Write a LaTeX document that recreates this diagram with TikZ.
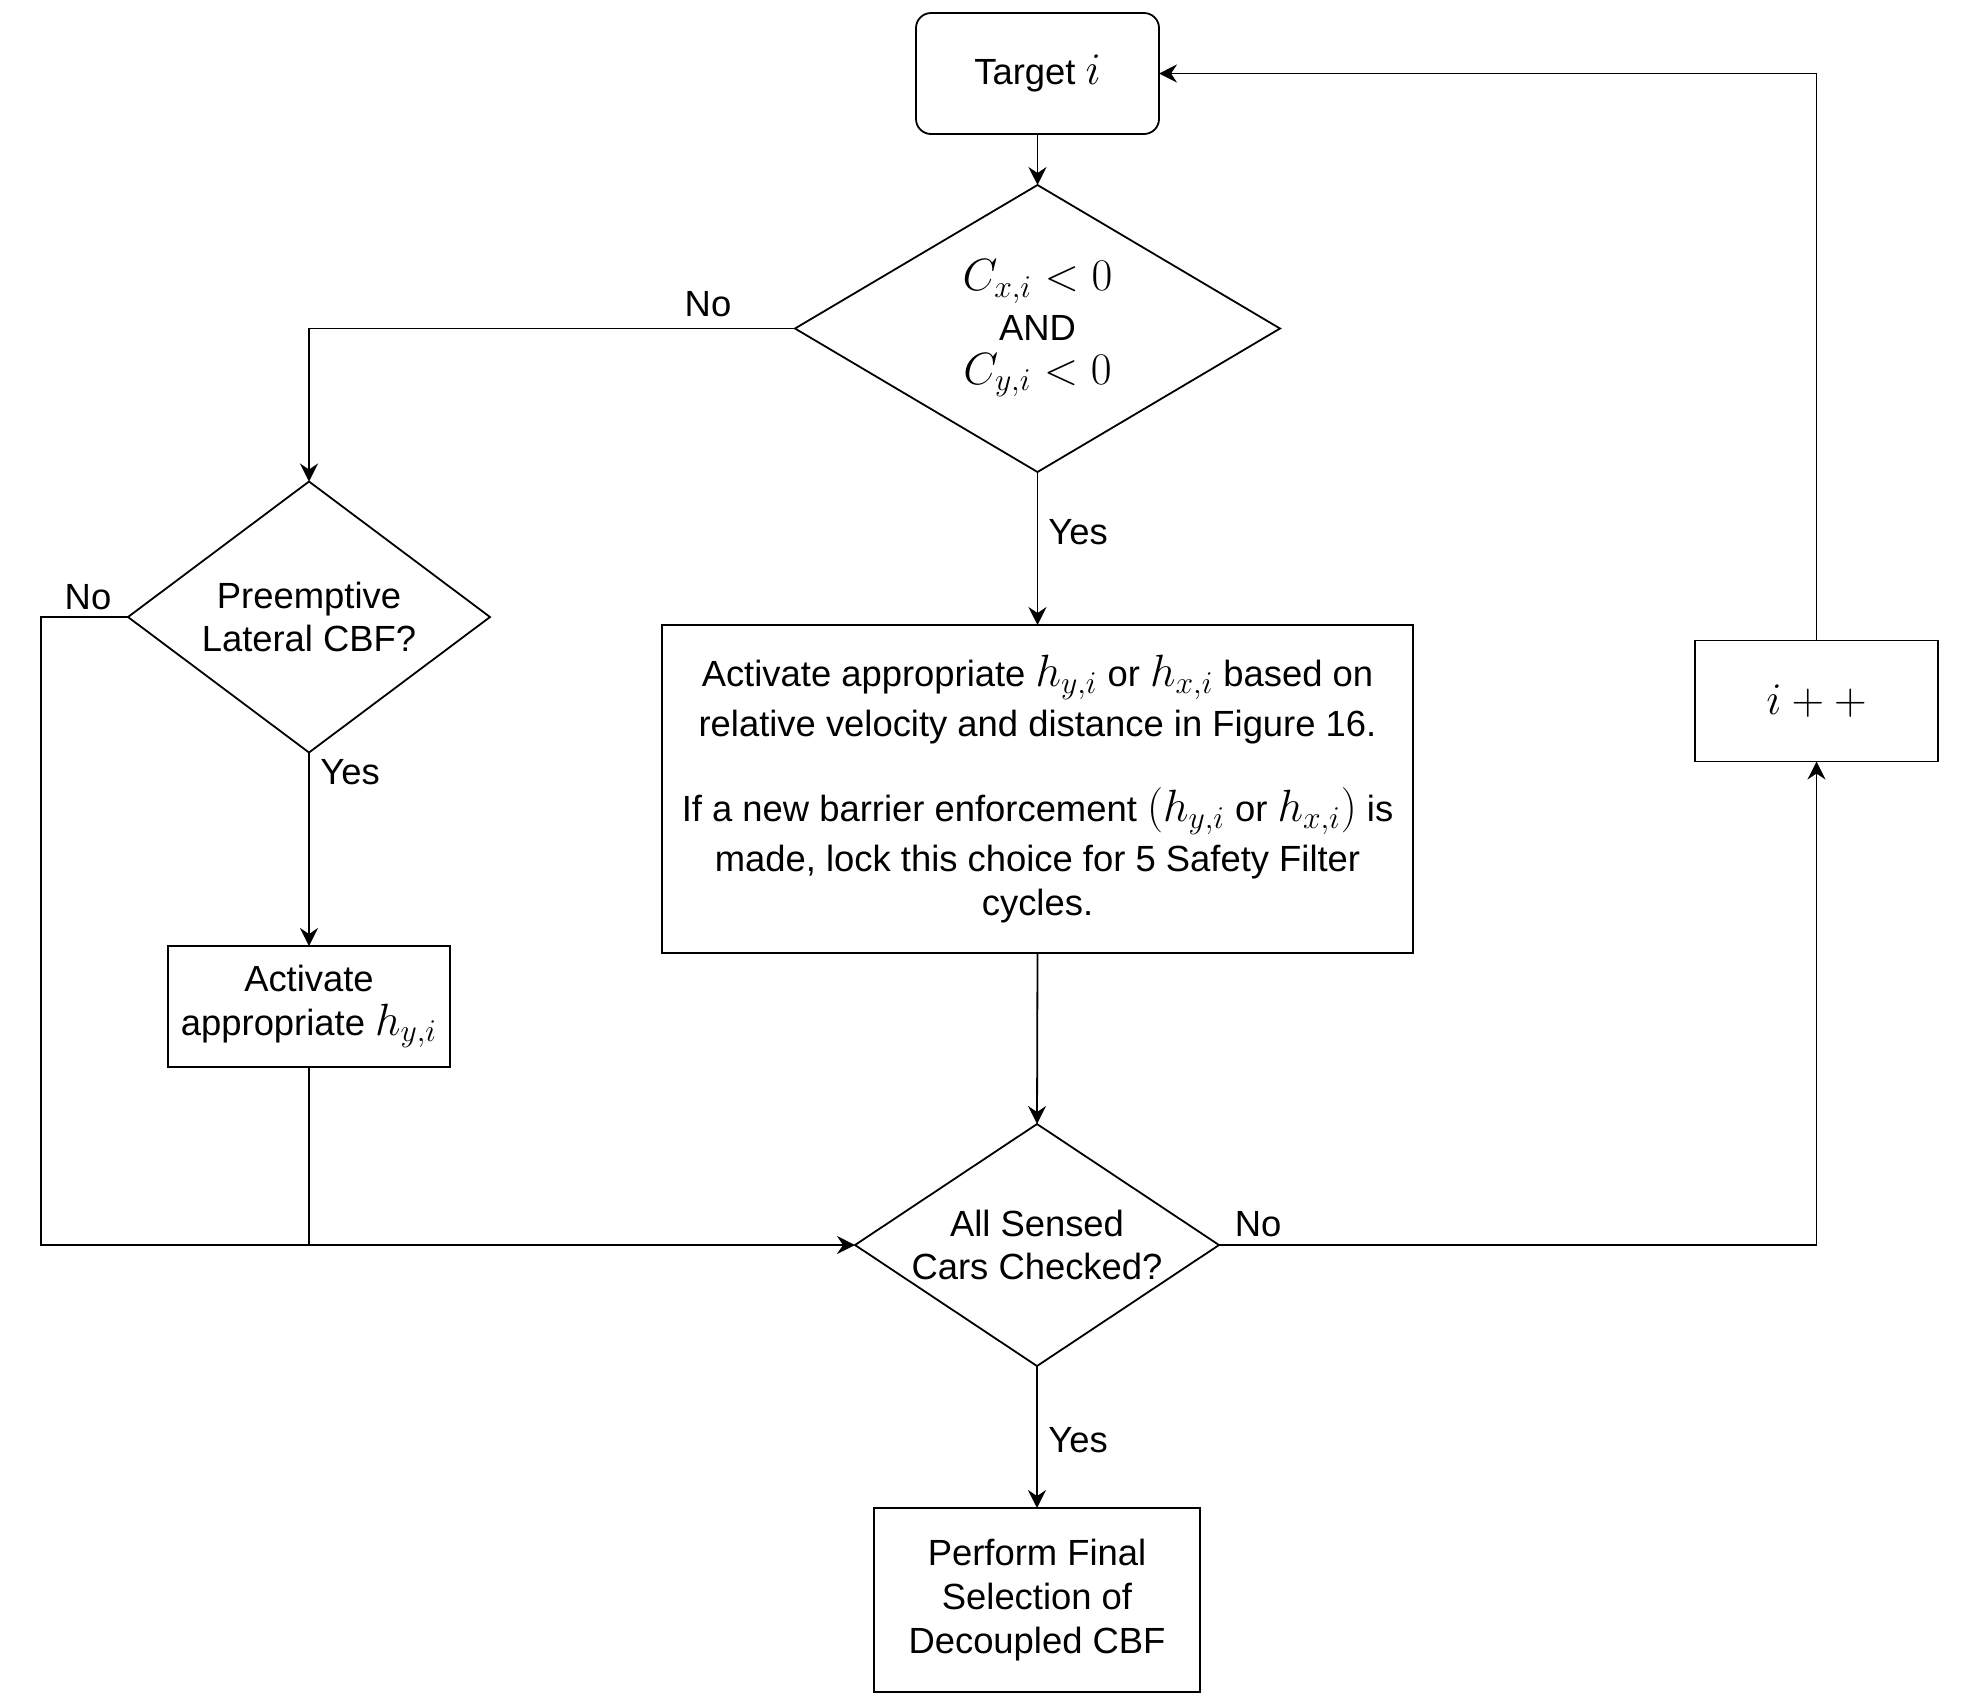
\RequirePackage{fix-cm}
\documentclass[tikz,border=0pt]{standalone}
\usepackage[no-math]{fontspec}
\setmainfont{Liberation Sans}
\usetikzlibrary{shapes.geometric,arrows.meta}
\newcommand{\mth}[1]{{\fontsize{22.6pt}{21.8pt}\selectfont$#1$}}
\begin{document}
\begin{tikzpicture}[x=0.5pt,y=-0.5pt,
  every node/.style={font=\fontsize{18.2pt}{21.8pt}\selectfont},
  ln/.style={line width=0.9pt, draw=black},
  arr/.style={ln, -{Stealth[length=9pt,width=9pt,inset=3pt]}},
  box/.style={draw, line width=0.9pt, rectangle, inner sep=0pt, outer sep=0pt, align=center},
  rbox/.style={box, rounded corners=7.5pt},
  dia/.style={draw, line width=0.9pt, diamond, inner sep=0pt, outer sep=0pt},
  dtxt/.style={align=center, inner sep=0pt},
  lbl/.style={inner sep=0pt},
]
\useasboundingbox (0,0) rectangle (1980,1704);

% nodes
\node[rbox, minimum width=121.5pt, minimum height=60.5pt] (t) at (1037.5,73.5) {Target \mth{i}};
\node[dia, minimum width=242.5pt, minimum height=143.5pt] (d1) at (1037.5,328.5) {};
\node[dtxt] (d1t) at (d1.center) {\mth{C_{x,i} < 0}\\[3pt]AND\\\mth{C_{y,i} < 0}};
\node[dia, minimum width=181pt, minimum height=135.5pt] (d2) at (309,617) {};
\node[dtxt] (d2t) at (d2.center) {Preemptive\\Lateral CBF?};
\node[box, minimum width=375.5pt, minimum height=164pt] (big) at (1037.5,789)
  {Activate appropriate \mth{h_{y,i}} or \mth{h_{x,i}} based on\\[3pt]
   relative velocity and distance in Figure 16.\\[21pt]
   If a new barrier enforcement \mth{(h_{y,i}} or \mth{h_{x,i})} is\\[3pt]
   made, lock this choice for 5 Safety Filter\\
   cycles.};
\node[box, minimum width=141pt, minimum height=60.5pt] (hy) at (309,1006.5) {Activate\\appropriate \mth{h_{y,i}}};
\node[dia, minimum width=182pt, minimum height=121pt] (d3) at (1037,1245) {};
\node[dtxt] (d3t) at (d3.center) {All Sensed\\Cars Checked?};
\node[box, minimum width=163pt, minimum height=92pt] (fin) at (1037,1600) {Perform Final\\Selection of\\Decoupled CBF};
\node[box, minimum width=121.5pt, minimum height=60.5pt] (ipp) at (1816.5,701) {\mth{i++}};

% connectors
\draw[arr] (t.south) -- (d1.north);
\draw[arr] (d1.west) -| (d2.north);
\node[lbl] (no1) at (708,304) {No};
\draw[arr] (d1.south) -- (big.north);
\node[lbl] (yes1) at (1078,532) {Yes};
\draw[arr] (big.south) -- (d3.north);
\draw[arr] (d2.south) -- (hy.north);
\node[lbl] (yes2) at (350,772) {Yes};
\draw[arr] (d2.west) -- ++(-87,0) |- (d3.west);
\node[lbl] (no2) at (88,597) {No};
\draw[ln] (hy.south) -- (hy.south |- d3.west);
\draw[arr] (d3.east) -| (ipp.south);
\node[lbl] (no3) at (1258,1224) {No};
\draw[arr] (ipp.north) |- (t.east);
\draw[arr] (d3.south) -- (fin.north);
\node[lbl] (yes3) at (1078,1440) {Yes};
\end{tikzpicture}
\end{document}
